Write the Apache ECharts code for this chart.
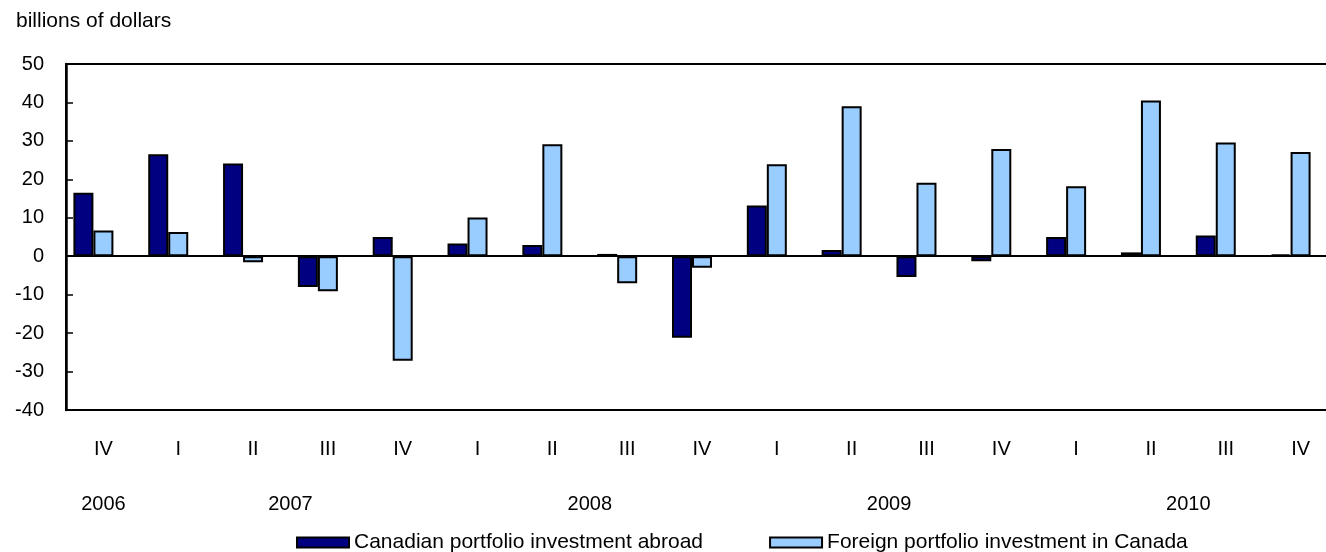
<!DOCTYPE html>
<html>
<head>
<meta charset="utf-8">
<script src="https://cdn.jsdelivr.net/npm/echarts@6/dist/echarts.min.js"></script>
<style>
html,body{margin:0;padding:0;background:#fff;}
#chart{width:1326px;height:552px;}
</style>
</head>
<body>
<div id="chart"></div>
<script>
// ---- data ----
var quarters = ['IV','I','II','III','IV','I','II','III','IV','I','II','III','IV','I','II','III','IV'];
var quarterYears = ['2006','2007','2007','2007','2007','2008','2008','2008','2008','2009','2009','2009','2009','2010','2010','2010','2010'];
var canadianAbroad = [16.5, 26.5, 24.1, -8.0, 5.0, 3.3, 2.9, 0.6, -21.2, 13.2, 1.6, -5.4, -1.3, 5.0, 1.0, 5.4, 0.5];
var foreignInCanada = [6.7, 6.3, -1.6, -9.1, -27.2, 10.1, 29.1, -7.0, -3.0, 23.9, 39.0, 19.1, 27.9, 18.2, 40.5, 29.6, 27.1];
var seriesNames = ['Canadian portfolio investment abroad', 'Foreign portfolio investment in Canada'];
var yTicks = {min: -40, max: 50, interval: 10};

// year label centred under its quarters
var yearCenters = {};
(function(){
  var acc = {};
  quarterYears.forEach(function(y, i){
    if(!acc[y]) acc[y] = [];
    acc[y].push(i);
  });
  Object.keys(acc).forEach(function(y){
    var a = acc[y];
    yearCenters[((a[0] + a[a.length-1]) / 2).toFixed(1)] = y;
  });
})();

var FONT = "'Liberation Sans', Arial, sans-serif";
var chart = echarts.init(document.getElementById('chart'));
var option = {
  animation: false,
  backgroundColor: '#ffffff',
  textStyle: {fontFamily: FONT, color: '#000'},
  title: {
    text: 'billions of dollars',
    left: 11, top: 6,
    textStyle: {fontSize: 21, fontWeight: 'normal', color: '#000', fontFamily: FONT}
  },
  legend: {
    data: seriesNames,
    left: 296, top: 532,
    itemWidth: 52, itemHeight: 10, itemGap: 66,
    padding: 0,
    icon: 'rect',
    textStyle: {fontSize: 21, color: '#000', fontFamily: FONT}
  },
  grid: {
    left: 66, top: 64, width: 1272, height: 346,
    show: true, borderColor: '#000', borderWidth: 2,
    outerBoundsMode: 'none', containLabel: false
  },
  xAxis: [{
    type: 'category',
    data: quarters,
    position: 'bottom',
    axisLine: {show: true, onZero: false, lineStyle: {color: '#000', width: 2}},
    axisTick: {show: false},
    axisLabel: {fontSize: 20, color: '#000', margin: 29, interval: 0, fontFamily: FONT},
    splitLine: {show: false}
  }, {
    type: 'value',
    min: -0.5, max: 16.5, interval: 0.5,
    position: 'bottom',
    axisLine: {show: false, onZero: false},
    axisTick: {show: false},
    splitLine: {show: false},
    axisLabel: {
      fontSize: 20, color: '#000', margin: 84, fontFamily: FONT,
      showMinLabel: true, showMaxLabel: true,
      formatter: function(v){ return yearCenters[v.toFixed(1)] || ''; }
    }
  }],
  yAxis: {
    type: 'value',
    position: 'left',
    min: yTicks.min, max: yTicks.max, interval: yTicks.interval,
    axisLine: {show: true, onZero: false, lineStyle: {color: '#000', width: 2.5}},
    axisTick: {show: true, inside: true, length: 7, lineStyle: {color: '#000', width: 1.5}},
    axisLabel: {fontSize: 20, color: '#000', margin: 22, fontFamily: FONT},
    splitLine: {show: false}
  },
  series: [{
    name: seriesNames[0],
    type: 'bar',
    xAxisIndex: 0,
    data: canadianAbroad,
    barWidth: 20,
    barGap: '0%',
    itemStyle: {color: '#000080', borderColor: '#000', borderWidth: 2},
    markLine: {
      silent: true,
      symbol: ['none','none'],
      label: {show: false},
      lineStyle: {color: '#000', width: 2, type: 'solid'},
      data: [{yAxis: 0}]
    }
  }, {
    name: seriesNames[1],
    type: 'bar',
    xAxisIndex: 0,
    data: foreignInCanada,
    barWidth: 20,
    barGap: '0%',
    itemStyle: {color: '#99CCFF', borderColor: '#000', borderWidth: 2}
  }, {
    name: 'spacer',
    type: 'bar',
    xAxisIndex: 0,
    data: [],
    barWidth: 20,
    barGap: '0%',
    silent: true
  }]
};
chart.setOption(option);
</script>
</body>
</html>
